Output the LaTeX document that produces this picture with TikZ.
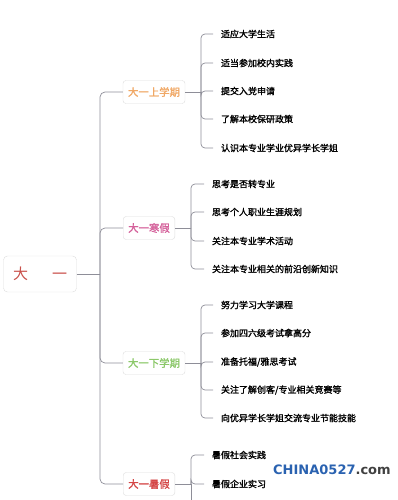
\documentclass[tikz,border=0pt]{standalone}
\usepackage{fontspec}
\setmainfont[AutoFakeBold=1.6]{Noto Sans CJK SC}
\newfontfamily\markfont{DejaVu Sans}
\usepackage{tikz}
\usepackage{color}

\definecolor{linegray}{HTML}{8E8E98}
\definecolor{boxgray}{HTML}{DCDCDC}
\definecolor{rootred}{HTML}{C9504A}
\definecolor{upcol}{HTML}{F0A866}
\definecolor{wincol}{HTML}{D4609A}
\definecolor{downcol}{HTML}{8CC86A}
\definecolor{sumcol}{HTML}{D44646}
\definecolor{markblue}{HTML}{2A62B0}

\tikzset{
  conn/.style={draw=linegray, line width=0.7pt, rounded corners=5pt},
  tick/.style={draw=linegray, line width=0.7pt, rounded corners=4pt},
  rootbox/.style={draw=boxgray, rounded corners=4pt, minimum width=73pt, minimum height=36pt, text=rootred, font=\fontsize{15}{15}\selectfont},
  branchbox/.style={draw=boxgray, rounded corners=3pt, minimum height=23pt, inner xsep=5pt, font=\fontsize{10.4}{11}\selectfont\bfseries},
  leaf/.style={anchor=west, inner sep=1pt, outer xsep=7pt, font=\fontsize{9}{10}\selectfont\bfseries}
}

\begin{document}
\begin{tikzpicture}[x=1pt, y=-1pt]
  \useasboundingbox (0,0) rectangle (398,500);
  \clip (0,0) rectangle (398,500);

  % Root and trunk
  \node[rootbox] (root) at (40,274) {大\hspace{24pt}一};
  \coordinate (trunk) at (100,274);
  \draw[conn] (root.east) -- (trunk);

  % Branch boxes
  \node[branchbox, text=upcol] (up) at (154,92) {大一上学期};
  \node[branchbox, text=wincol] (win) at (149,228) {大一寒假};
  \node[branchbox, text=downcol] (down) at (154,363) {大一下学期};
  \node[branchbox, text=sumcol] (sum) at (149,484) {大一暑假};

  % Trunk to branches
  \draw[conn] (trunk) |- (up.west);
  \draw[conn] (trunk) |- (win.west);
  \draw[conn] (trunk) |- (down.west);
  \draw[conn] (trunk) |- (sum.west);

  % Leaves of the first term
  \coordinate (upbr) at (201,92);
  \node[leaf] (u1) at (213,34) {适应大学生活};
  \node[leaf] (u2) at (213,63) {适当参加校内实践};
  \node[leaf] (u3) at (213,91) {提交入党申请};
  \node[leaf] (u4) at (213,119) {了解本校保研政策};
  \node[leaf] (u5) at (213,148) {认识本专业学业优异学长学姐};
  \draw[conn] (up.east) -- (upbr);
  \draw[tick] (upbr) |- (u1.west);
  \draw[tick] (upbr) |- (u2.west);
  \draw[tick] (upbr) |- (u3.west);
  \draw[tick] (upbr) |- (u4.west);
  \draw[tick] (upbr) |- (u5.west);

  % Leaves of the winter break
  \coordinate (winbr) at (191,228);
  \node[leaf] (w1) at (204,184) {思考是否转专业};
  \node[leaf] (w2) at (204,212) {思考个人职业生涯规划};
  \node[leaf] (w3) at (204,241) {关注本专业学术活动};
  \node[leaf] (w4) at (204,269) {关注本专业相关的前沿创新知识};
  \draw[conn] (win.east) -- (winbr);
  \draw[tick] (winbr) |- (w1.west);
  \draw[tick] (winbr) |- (w2.west);
  \draw[tick] (winbr) |- (w3.west);
  \draw[tick] (winbr) |- (w4.west);

  % Leaves of the second term
  \coordinate (downbr) at (201,363);
  \node[leaf] (d1) at (213,305) {努力学习大学课程};
  \node[leaf] (d2) at (213,333) {参加四六级考试拿高分};
  \node[leaf] (d3) at (213,362) {准备托福/雅思考试};
  \node[leaf] (d4) at (213,390) {关注了解创客/专业相关竞赛等};
  \node[leaf] (d5) at (213,418) {向优异学长学姐交流专业节能技能};
  \draw[conn] (down.east) -- (downbr);
  \draw[tick] (downbr) |- (d1.west);
  \draw[tick] (downbr) |- (d2.west);
  \draw[tick] (downbr) |- (d3.west);
  \draw[tick] (downbr) |- (d4.west);
  \draw[tick] (downbr) |- (d5.west);

  % Leaves of the summer break (list runs off the page)
  \coordinate (sumbr) at (191,484);
  \coordinate (sumend) at (191,515);
  \node[leaf] (s1) at (204,455) {暑假社会实践};
  \node[leaf] (s2) at (204,484) {暑假企业实习};
  \draw[conn] (sum.east) -- (sumbr);
  \draw[tick] (sumbr) |- (s1.west);
  \draw[tick] (sumbr) |- (s2.west);
  \draw[tick] (sumbr) -- (sumend);

  % Watermark
  \node[anchor=west, inner sep=0pt, font=\markfont\bfseries\fontsize{13}{13}\selectfont] (mark) at (273,470) {\textcolor{markblue}{CHINA0527}\textcolor{black!75}{.com}};
\end{tikzpicture}
\end{document}
